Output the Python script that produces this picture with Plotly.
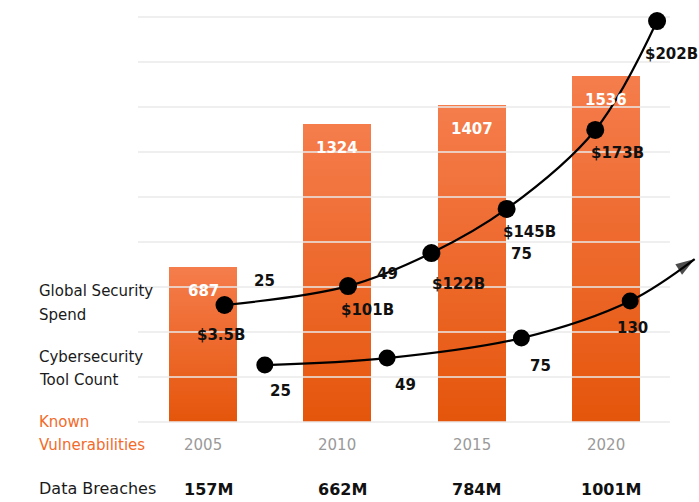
import plotly.graph_objects as go

# ---------------- data ----------------
years = [2005, 2010, 2015, 2020]
year_labels = ["2005", "2010", "2015", "2020"]
known_vulns = [687, 1324, 1407, 1536]
bar_labels = ["687", "1324", "1407", "1536"]
data_breaches = ["157M", "662M", "784M", "1001M"]

# Global security spend curve (illustrative curve drawn over the bars)
spend_labels = ["$3.5B", "$101B", "$122B", "$145B", "$173B", "$202B"]
spend_x = [2005.8, 2010.4, 2013.5, 2016.3, 2019.6, 2021.9]
spend_level = [520, 604, 751, 947, 1298, 1782]

# Cybersecurity tool count curve (last point = arrow head)
tool_labels = ["25", "49", "75", "130"]
tool_x = [2007.3, 2011.85, 2016.85, 2020.9, 2023.3]
tool_level = [253, 284, 373, 538, 724]

grid_values = [0, 200, 400, 600, 800, 1000, 1200, 1400, 1600, 1800]

# ---------------- layout constants ----------------
W, H = 699, 502
X_RANGE = [1997.444, 2023.461]
Y_RANGE = [-355.6, 1875.6]
GRID_X = [2002.58, 2022.38]
BAR_W = 2.53

TOP_C = (245, 124, 76)
BOT_C = (229, 86, 12)
ORANGE_TXT = "#F26B2A"
BOLD = dict(family="DejaVu Sans", size=15, color="#111111", weight="bold")

fig = go.Figure()

# gridlines (behind everything)
gx, gy = [], []
for v in grid_values:
    gx += [GRID_X[0], GRID_X[1], None]
    gy += [v, v, None]
fig.add_trace(go.Scatter(x=gx, y=gy, mode="lines",
                         line=dict(color="#EAEAEA", width=1.6),
                         hoverinfo="skip", showlegend=False))

# gradient bars as stacked thin slices
N = 40
for i in range(N):
    t = (i + 0.5) / N
    c = tuple(round(BOT_C[k] + (TOP_C[k] - BOT_C[k]) * t) for k in range(3))
    fig.add_trace(go.Bar(
        x=years, y=[v / N for v in known_vulns], width=BAR_W,
        marker=dict(color="rgb(%d,%d,%d)" % c, line=dict(width=0)),
        hoverinfo="skip", showlegend=False))

# spend curve
fig.add_trace(go.Scatter(
    x=spend_x, y=spend_level, mode="lines+markers",
    line=dict(color="#000000", width=2.2, shape="spline", smoothing=1.0),
    marker=dict(color="#000000", size=18),
    hoverinfo="skip", showlegend=False))

# tool count curve
fig.add_trace(go.Scatter(
    x=tool_x, y=tool_level, mode="lines",
    line=dict(color="#000000", width=2.2, shape="spline", smoothing=1.0),
    hoverinfo="skip", showlegend=False))
fig.add_trace(go.Scatter(
    x=tool_x[:-1], y=tool_level[:-1], mode="markers",
    marker=dict(color="#000000", size=17),
    hoverinfo="skip", showlegend=False))
# arrow head at the end of the tool count curve
fig.add_trace(go.Scatter(
    x=tool_x[-2:], y=tool_level[-2:], mode="markers",
    marker=dict(color="#000000", size=[0, 20], symbol="arrow",
                angleref="previous", line=dict(width=0)),
    hoverinfo="skip", showlegend=False))

ann = []

# bar value labels (white, inside top)
for x, v, lab in zip(years, known_vulns, bar_labels):
    ann.append(dict(x=x, y=v, xref="x", yref="y", text=lab, showarrow=False,
                    yanchor="middle", yshift=-24,
                    font=dict(family="DejaVu Sans", size=15, color="white", weight="bold")))

# spend labels
spend_off = [(-4, 30), (19, 24), (27, 31), (23, 23), (22, 23), (14, 33)]
for x, y, lab, (dx, dy) in zip(spend_x, spend_level, spend_labels, spend_off):
    ann.append(dict(x=x, y=y, xref="x", yref="y", text=lab, showarrow=False,
                    xshift=dx, yshift=-dy, font=BOLD))

# tool labels
tool_off = [(16, 26), (18, 27), (19, 28), (2, 27)]
for x, y, lab, (dx, dy) in zip(tool_x, tool_level, tool_labels, tool_off):
    ann.append(dict(x=x, y=y, xref="x", yref="y", text=lab, showarrow=False,
                    xshift=dx, yshift=-dy, font=BOLD))
# duplicated tool labels higher up
for x, y, lab in zip(tool_x[:3], tool_level[:3], tool_labels[:3]):
    ann.append(dict(x=x, y=y, xref="x", yref="y", text=lab, showarrow=False,
                    yshift=84, font=BOLD))

# year labels
for x, lab in zip(years, year_labels):
    ann.append(dict(x=x, y=1 - 445 / H, xref="x", yref="paper", text=lab,
                    showarrow=False, yanchor="middle",
                    font=dict(family="DejaVu Sans", size=15, color="#9A9A9A")))

# data breaches row
for x, lab in zip(years, data_breaches):
    ann.append(dict(x=x, y=1 - 489 / H, xref="x", yref="paper", text=lab,
                    showarrow=False, yanchor="middle", xshift=5,
                    font=dict(family="DejaVu Sans", size=16, color="#111111", weight="bold")))

# left side labels
left = [("Global Security", 291, "#1A1A1A", 15),
        ("Spend", 315, "#1A1A1A", 15),
        ("Cybersecurity", 357, "#1A1A1A", 15),
        ("Tool Count", 380, "#1A1A1A", 15),
        ("Known", 422, ORANGE_TXT, 15),
        ("Vulnerabilities", 445, ORANGE_TXT, 15),
        ("Data Breaches", 488, "#1A1A1A", 16)]
for txt, ypx, col, sz in left:
    ann.append(dict(x=37 / W, y=1 - ypx / H, xref="paper", yref="paper", text=txt,
                    showarrow=False, xanchor="left", yanchor="middle",
                    font=dict(family="DejaVu Sans", size=sz, color=col)))

fig.update_layout(
    width=W, height=H,
    margin=dict(l=0, r=0, t=0, b=0),
    paper_bgcolor="white", plot_bgcolor="white",
    barmode="stack", showlegend=False,
    xaxis=dict(range=X_RANGE, visible=False, domain=[0, 1]),
    yaxis=dict(range=Y_RANGE, visible=False, domain=[0, 1]),
    annotations=ann,
)

fig.write_html("out.html")
